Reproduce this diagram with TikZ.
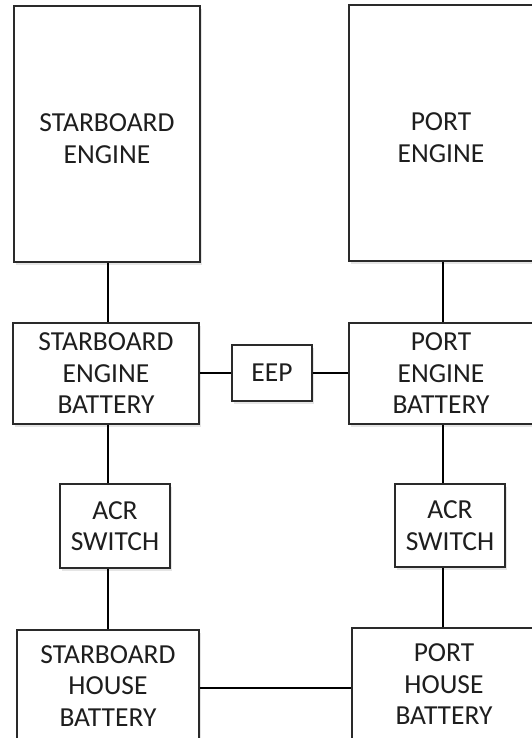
\documentclass[tikz,border=0pt]{standalone}
\usepackage{fontspec}
\setmainfont{Carlito}
\usetikzlibrary{shadows}
\definecolor{boxline}{HTML}{2A2A2A}
\definecolor{txt}{HTML}{1E1E1E}
\newcommand{\lowered}[1]{\raisebox{-7pt}[\height][\depth]{\begin{tabular}{@{}c@{}}#1\end{tabular}}}
\begin{document}
\begin{tikzpicture}[x=1pt,y=-1pt,
  box/.style={draw=boxline, line width=1.5pt, fill=white, rectangle, inner sep=0pt,
    align=center, text=txt, font=\fontsize{27.5}{31.5}\selectfont,
    drop shadow={shadow xshift=2pt, shadow yshift=-3pt, opacity=0.10, fill=black}},
  wire/.style={draw=black, line width=2.5pt}]
\useasboundingbox (0,0) rectangle (532,738);
\clip (0,0) rectangle (532,738);
\fill[white] (0,0) rectangle (532,738);
% nodes
\node[box, minimum width=186pt, minimum height=256pt] (se) at (107,134) {\lowered{STARBOARD\\ENGINE}};
\node[box, minimum width=184pt, minimum height=256pt] (pe) at (441,133) {\lowered{PORT\\ENGINE}};
\node[box, minimum width=186pt, minimum height=101pt] (seb) at (106,373.5) {STARBOARD\\ENGINE\\BATTERY};
\node[box, minimum width=80pt, minimum height=56pt] (eep) at (272,373) {EEP};
\node[box, minimum width=184pt, minimum height=101pt] (peb) at (441,373.5) {PORT\\ENGINE\\BATTERY};
\node[box, minimum width=110pt, minimum height=84pt] (acr1) at (115,526) {ACR\\SWITCH};
\node[box, minimum width=110pt, minimum height=83pt] (acr2) at (450,525.5) {ACR\\SWITCH};
\node[box, minimum width=182pt, minimum height=112pt] (sh) at (108,686) {STARBOARD\\HOUSE\\BATTERY};
\node[box, minimum width=184pt, minimum height=113pt] (ph) at (444,684.5) {PORT\\HOUSE\\BATTERY};
% guide coordinates
\coordinate (sx) at (108,0);
\coordinate (px) at (443,0);
\coordinate (ey) at (0,373);
\coordinate (hy) at (0,688);
% connectors
\draw[wire] (se.south -| sx) -- (seb.north -| sx);
\draw[wire] (seb.south -| sx) -- (acr1.north -| sx);
\draw[wire] (acr1.south -| sx) -- (sh.north -| sx);
\draw[wire] (pe.south -| px) -- (peb.north -| px);
\draw[wire] (peb.south -| px) -- (acr2.north -| px);
\draw[wire] (acr2.south -| px) -- (ph.north -| px);
\draw[wire] (seb.east |- ey) -- (eep.west |- ey);
\draw[wire] (eep.east |- ey) -- (peb.west |- ey);
\draw[wire] (sh.east |- hy) -- (ph.west |- hy);
\end{tikzpicture}
\end{document}
